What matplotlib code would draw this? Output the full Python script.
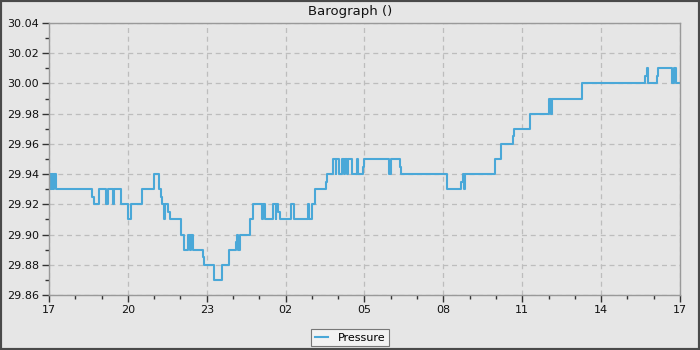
import matplotlib
matplotlib.use("Agg")
import matplotlib.pyplot as plt
import matplotlib.dates as mdates
from matplotlib.patches import Rectangle
from matplotlib.ticker import MultipleLocator
from datetime import datetime, timedelta

# Step readings: time (HH:MM, starting 17:00 and running into next day) and pressure (inHg)
times = ["17:00", "17:02", "17:05", "17:07", "17:09", "17:11", "17:15", "18:38", "18:42", "18:54",
         "19:10", "19:14", "19:25", "19:28", "19:45", "20:01", "20:06", "20:33", "21:00", "21:12",
         "21:16", "21:19", "21:22", "21:25", "21:32", "21:36", "22:01", "22:08", "22:17", "22:21",
         "22:23", "22:29", "22:51", "22:54", "23:17", "23:34", "23:51", "00:06", "00:08", "00:12",
         "00:16", "00:39", "00:45", "01:05", "01:08", "01:13", "01:31", "01:32", "01:37", "01:39",
         "01:43", "01:47", "02:12", "02:20", "02:50", "02:54", "03:00", "03:07", "03:32", "03:35",
         "03:49", "03:54", "03:56", "04:02", "04:09", "04:13", "04:15", "04:20", "04:23", "04:31",
         "04:42", "04:46", "04:57", "04:59", "05:57", "06:00", "06:20", "06:23", "08:08", "08:40",
         "08:44", "08:46", "08:49", "09:58", "10:12", "10:40", "10:42", "11:18", "12:00", "12:05",
         "12:07", "12:09", "13:16", "15:41", "15:44", "15:48", "16:07", "16:10", "16:42", "16:46",
         "16:52", "17:00"]
pressure = [29.93, 29.94, 29.93, 29.94, 29.93, 29.94, 29.93, 29.925, 29.92, 29.93,
            29.92, 29.93, 29.92, 29.93, 29.92, 29.91, 29.92, 29.93, 29.94, 29.93,
            29.925, 29.92, 29.91, 29.92, 29.915, 29.91, 29.90, 29.89, 29.90, 29.89,
            29.90, 29.89, 29.885, 29.88, 29.87, 29.88, 29.89, 29.895, 29.90, 29.89,
            29.90, 29.91, 29.92, 29.91, 29.92, 29.91, 29.915, 29.92, 29.91, 29.92,
            29.915, 29.91, 29.92, 29.91, 29.92, 29.91, 29.92, 29.93, 29.935, 29.94,
            29.95, 29.94, 29.95, 29.94, 29.95, 29.94, 29.95, 29.94, 29.95, 29.94,
            29.95, 29.94, 29.945, 29.95, 29.94, 29.95, 29.945, 29.94, 29.93, 29.935,
            29.94, 29.93, 29.94, 29.95, 29.96, 29.965, 29.97, 29.98, 29.99, 29.98,
            29.985, 29.99, 30.00, 30.005, 30.01, 30.00, 30.005, 30.01, 30.00, 30.01,
            30.00, 30.00]

title = "Barograph ()"
series_name = "Pressure"
y_ticks = [29.86, 29.88, 29.90, 29.92, 29.94, 29.96, 29.98, 30.00, 30.02, 30.04]

# Build datetimes with day rollover
base = datetime(2024, 1, 1)
dts = []
day = 0
prev = None
for t in times:
    h, m = map(int, t.split(":"))
    mins = h * 60 + m
    if prev is not None and mins <= prev:
        day += 1
    prev = mins
    dts.append(base + timedelta(days=day, minutes=mins))

bg = "#e6e6e6"
fig = plt.figure(figsize=(7, 3.5), dpi=100, facecolor=bg)
ax = fig.add_axes([0.07, 0.157, 0.9014, 0.7773])
ax.set_facecolor(bg)

line_color = "#4aa8d8"
ax.step(dts, pressure, where="post", color=line_color, lw=1.5, label=series_name)

ax.set_xlim(dts[0], dts[-1])
ax.set_ylim(29.86, 30.04)
ax.set_yticks(y_ticks)
ax.set_yticklabels([f"{v:.2f}" for v in y_ticks])
ax.yaxis.set_minor_locator(MultipleLocator(0.01))
ax.xaxis.set_major_locator(mdates.HourLocator(byhour=[2, 5, 8, 11, 14, 17, 20, 23]))
ax.xaxis.set_minor_locator(mdates.HourLocator())
ax.xaxis.set_major_formatter(mdates.DateFormatter("%H"))

for s in ax.spines.values():
    s.set_color("#999999")
    s.set_linewidth(1.0)
ax.tick_params(axis="both", which="major", length=5, width=1, color="#333333",
               labelsize=8, labelcolor="#111111", pad=2)
ax.tick_params(axis="both", which="minor", length=3, width=1, color="#333333")

ax.grid(True, which="major", color="#bdbdbd", linestyle=(0, (4, 3)), linewidth=0.9)
ax.set_axisbelow(True)

fig.suptitle(title, y=0.985, fontsize=9.5, color="#111111")

leg = fig.legend(loc="center", bbox_to_anchor=(0.5, 0.035), fontsize=8, frameon=True,
                 fancybox=False, handlelength=1.2, handletextpad=0.9, borderpad=0.3,
                 borderaxespad=0)
leg.get_frame().set_facecolor("#f2f2f2")
leg.get_frame().set_edgecolor("#777777")
leg.get_frame().set_linewidth(0.8)
leg.get_frame().set_alpha(1)

fig.patches.append(Rectangle((0, 0), 1, 1, transform=fig.transFigure, fill=False,
                             edgecolor="#4a4a4a", linewidth=3, zorder=10))

fig.savefig("out.png", dpi=100, facecolor=bg)
